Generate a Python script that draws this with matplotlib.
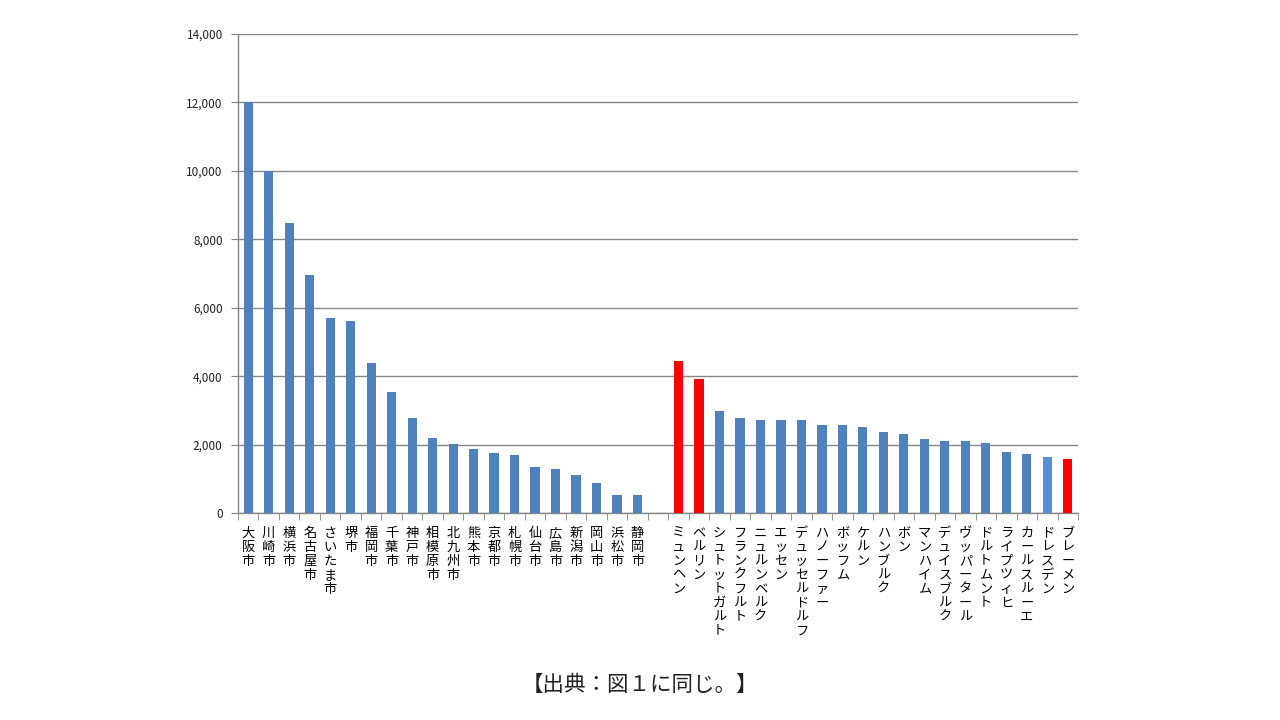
import matplotlib
matplotlib.use("Agg")
import matplotlib.pyplot as plt
from matplotlib.ticker import FuncFormatter, FixedLocator
import numpy as np

plt.rcParams['font.family'] = ['Noto Sans CJK JP', 'DejaVu Sans']

jp_cities = ["大阪市", "川崎市", "横浜市", "名古屋市", "さいたま市", "堺市", "福岡市", "千葉市",
             "神戸市", "相模原市", "北九州市", "熊本市", "京都市", "札幌市", "仙台市", "広島市",
             "新潟市", "岡山市", "浜松市", "静岡市"]
jp_values = [12000, 9990, 8490, 6950, 5700, 5610, 4380, 3540, 2780, 2200, 2010, 1880, 1760,
             1700, 1350, 1290, 1120, 880, 520, 520]

de_cities = ["ミュンヘン", "ベルリン", "シュトットガルト", "フランクフルト", "ニュルンベルク",
             "エッセン", "デュッセルドルフ", "ハノーファー", "ボッフム", "ケルン", "ハンブルク",
             "ボン", "マンハイム", "デュイスブルク", "ヴッパータール", "ドルトムント",
             "ライプツィヒ", "カールスルーエ", "ドレスデン", "ブレーメン"]
de_values = [4450, 3910, 2970, 2780, 2720, 2720, 2720, 2580, 2580, 2520, 2370, 2320, 2170,
             2090, 2090, 2060, 1790, 1710, 1630, 1570]

red_cities = ["ミュンヘン", "ベルリン", "ブレーメン"]
light_cities = ["ドレスデン"]

yticks = [0, 2000, 4000, 6000, 8000, 10000, 12000, 14000]
source_text = "【出典：図１に同じ。】"

BLUE = "#4F81BD"
RED = "#FF0000"
LIGHT = "#558ED5"

names = jp_cities + [""] + de_cities
values = jp_values + [0] + de_values
pos = np.arange(len(names))

def color_of(n):
    if n in red_cities:
        return RED
    if n in light_cities:
        return LIGHT
    return BLUE

fig = plt.figure(figsize=(12.8, 7.2), dpi=100)
ax = fig.add_axes([238/1280, 1-513/720, 840/1280, 479/720])

mask = [n != "" for n in names]
ax.bar(pos[mask], np.array(values)[mask], width=0.45,
       color=[color_of(n) for n in np.array(names)[mask]], zorder=3)

ax.set_xlim(-0.5, len(names) - 0.5)
ax.set_ylim(0, 14000)
ax.set_yticks(yticks)
ax.yaxis.set_major_formatter(FuncFormatter(lambda v, p: f"{int(v):,}"))
ax.grid(axis='y', color="#868686", linewidth=1, zorder=0)

ax.set_xticks(pos)
ax.set_xticklabels(["\n".join(list(n)) for n in names], fontsize=9.5, linespacing=1.1,
                   color="#000000", va='top')
ax.xaxis.set_minor_locator(FixedLocator(np.arange(-0.5, len(names), 1.0)))
ax.tick_params(axis='x', which='major', length=0, pad=10)
ax.tick_params(axis='x', which='minor', length=5, color="#868686", direction='out')
ax.tick_params(axis='y', length=5, color="#868686", labelsize=8.5, labelcolor="#222222", pad=6)

for s in ['top', 'right']:
    ax.spines[s].set_visible(False)
for s in ['left', 'bottom']:
    ax.spines[s].set_color("#868686")
    ax.spines[s].set_linewidth(1)

fig.text(0.5, 1 - 685/720, source_text, ha='center', va='center', fontsize=15.5, color="#222222")

fig.savefig("out.png", dpi=100, facecolor="white")
